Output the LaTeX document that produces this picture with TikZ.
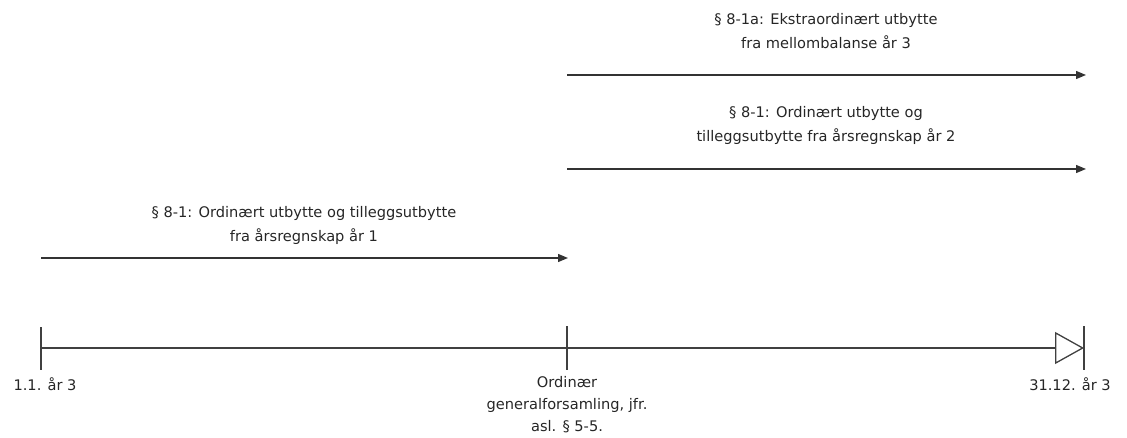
\documentclass[tikz,border=0pt]{standalone}
\usepackage{fontspec}
\setmainfont{DejaVu Sans}
\usepackage{tikz}
\usetikzlibrary{arrows.meta}

\begin{document}
\begin{tikzpicture}[x=1pt, y=-1pt, line width=1.3pt, color=black!75,
    txt/.style={text=black!85, font=\fontsize{14.6}{24}\selectfont, align=center, inner sep=0pt},
    span/.style={-{Triangle[length=10pt, width=8pt]}, color=black!80},
    tick/.style={line width=1.3pt}]
    \useasboundingbox (0,0) rectangle (1127,438);

    % time axis
    \coordinate (start) at (41,348);
    \coordinate (gf) at (567,348);
    \coordinate (end) at (1084,348);
    \draw[-{Triangle[open, length=29pt, width=32pt, line width=1.3pt]}] (start) -- (end);
    \draw[tick] (41,327) -- (41,370);
    \draw[tick] (567,326) -- (567,370);
    \draw[tick] (1084,326) -- (1084,370);

    \node[txt] (lstart) at (45,384) {1.1. år 3};
    \node[txt, font=\fontsize{14.6}{22}\selectfont, anchor=north] (lgf) at (567,376) {Ordinær\\generalforsamling, jfr.\\asl. § 5-5.};
    \node[txt] (lend) at (1070,384) {31.12. år 3};

    % periods
    \coordinate (a1) at (567,75);
    \coordinate (a2) at (1086,75);
    \coordinate (b1) at (567,169);
    \coordinate (b2) at (1086,169);
    \coordinate (c1) at (41,258);
    \coordinate (c2) at (568,258);
    \draw[span] (a1) -- (a2);
    \draw[span] (b1) -- (b2);
    \draw[span] (c1) -- (c2);

    \node[txt] (ta) at (826,31) {§ 8-1a: Ekstraordinært utbytte\\fra mellombalanse år 3};
    \node[txt] (tb) at (826,125) {§ 8-1: Ordinært utbytte og\\tilleggsutbytte fra årsregnskap år 2};
    \node[txt] (tc) at (304,225) {§ 8-1: Ordinært utbytte og tilleggsutbytte\\fra årsregnskap år 1};
\end{tikzpicture}
\end{document}
